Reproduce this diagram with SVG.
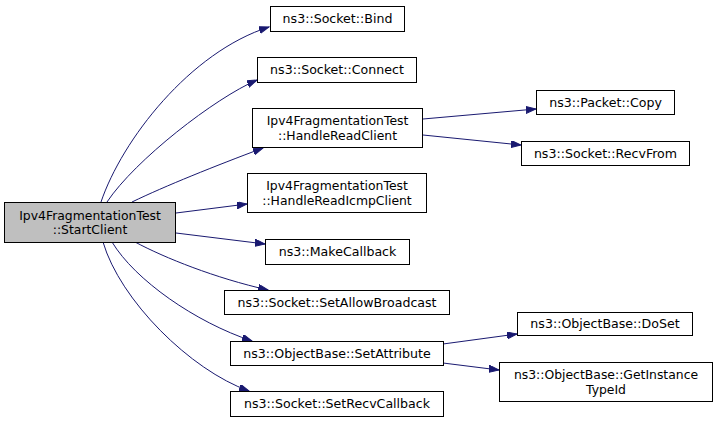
<svg xmlns="http://www.w3.org/2000/svg" width="717" height="423" viewBox="0 0 717 423">
<style>
.n rect{fill:#ffffff;stroke:#000000;stroke-width:1}
.n.root rect{fill:#bfbfbf}
.n text{font-family:"DejaVu Sans","Liberation Sans",sans-serif;font-size:12.6px;fill:#000000;text-anchor:middle}
.n text.t2{font-size:12.4px}
.e path{fill:none;stroke:#191970;stroke-width:1;marker-end:url(#ah)}
</style>
<defs>
<marker id="ah" markerUnits="userSpaceOnUse" markerWidth="11" markerHeight="8" refX="10" refY="3.5" orient="auto" viewBox="0 0 11 8">
<path d="M0,0 L10,3.5 L0,7 z" fill="#191970" stroke="#191970" stroke-width="1"/>
</marker>
</defs>
<rect x="0" y="0" width="717" height="423" fill="#ffffff"/>
<g id="edges" class="e">
<path d="M101,202 C122,140 190,52 269,27"/>
<path d="M107,202 C135,160 215,98 257,80"/>
<path d="M132,202 C165,186 215,166 263,148"/>
<path d="M176,213 L247,204"/>
<path d="M176,233 L265,244"/>
<path d="M135,242 C165,258 215,278 268,290"/>
<path d="M112,242 C135,280 195,322 252,341"/>
<path d="M103,242 C120,300 190,370 249,391"/>
<path d="M423,119 L536,109"/>
<path d="M423,135 L521,145"/>
<path d="M443,344 L517,334"/>
<path d="M443,363 L499,370"/>
</g>
<g id="StartClient" class="n root">
<rect x="4.5" y="202.5" width="171" height="40"/>
<text class="t2" x="90" y="219.6">Ipv4FragmentationTest</text>
<text class="t2" x="90" y="234">::StartClient</text>
</g>
<g id="Bind" class="n">
<rect x="270.5" y="6.5" width="134" height="25"/>
<text x="337.5" y="23">ns3::Socket::Bind</text>
</g>
<g id="Connect" class="n">
<rect x="257.5" y="57.5" width="159" height="25"/>
<text x="337" y="74">ns3::Socket::Connect</text>
</g>
<g id="HandleReadClient" class="n">
<rect x="252.5" y="108.5" width="170" height="39"/>
<text class="t2" x="337.5" y="125.1">Ipv4FragmentationTest</text>
<text class="t2" x="337.5" y="139.5">::HandleReadClient</text>
</g>
<g id="HandleReadIcmpClient" class="n">
<rect x="247.5" y="173.5" width="179" height="39"/>
<text class="t2" x="337" y="190.1">Ipv4FragmentationTest</text>
<text class="t2" x="337" y="204.5">::HandleReadIcmpClient</text>
</g>
<g id="MakeCallback" class="n">
<rect x="265.5" y="239.5" width="144" height="25"/>
<text x="337.5" y="256">ns3::MakeCallback</text>
</g>
<g id="SetAllowBroadcast" class="n">
<rect x="224.5" y="290.5" width="225" height="24"/>
<text x="337" y="306.5">ns3::Socket::SetAllowBroadcast</text>
</g>
<g id="SetAttribute" class="n">
<rect x="230.5" y="341.5" width="213" height="24"/>
<text x="337" y="357.5">ns3::ObjectBase::SetAttribute</text>
</g>
<g id="SetRecvCallback" class="n">
<rect x="230.5" y="391.5" width="213" height="25"/>
<text x="337" y="408">ns3::Socket::SetRecvCallback</text>
</g>
<g id="PacketCopy" class="n">
<rect x="536.5" y="90.5" width="138" height="24"/>
<text x="605.5" y="106.5">ns3::Packet::Copy</text>
</g>
<g id="RecvFrom" class="n">
<rect x="521.5" y="141.5" width="168" height="24"/>
<text x="605.5" y="157.5">ns3::Socket::RecvFrom</text>
</g>
<g id="DoSet" class="n">
<rect x="517.5" y="312.5" width="175" height="23"/>
<text x="605" y="328">ns3::ObjectBase::DoSet</text>
</g>
<g id="GetInstanceTypeId" class="n">
<rect x="499.5" y="362.5" width="213" height="39"/>
<text class="t2" x="606" y="379.1">ns3::ObjectBase::GetInstance</text>
<text class="t2" x="606" y="393.5">TypeId</text>
</g>
</svg>
